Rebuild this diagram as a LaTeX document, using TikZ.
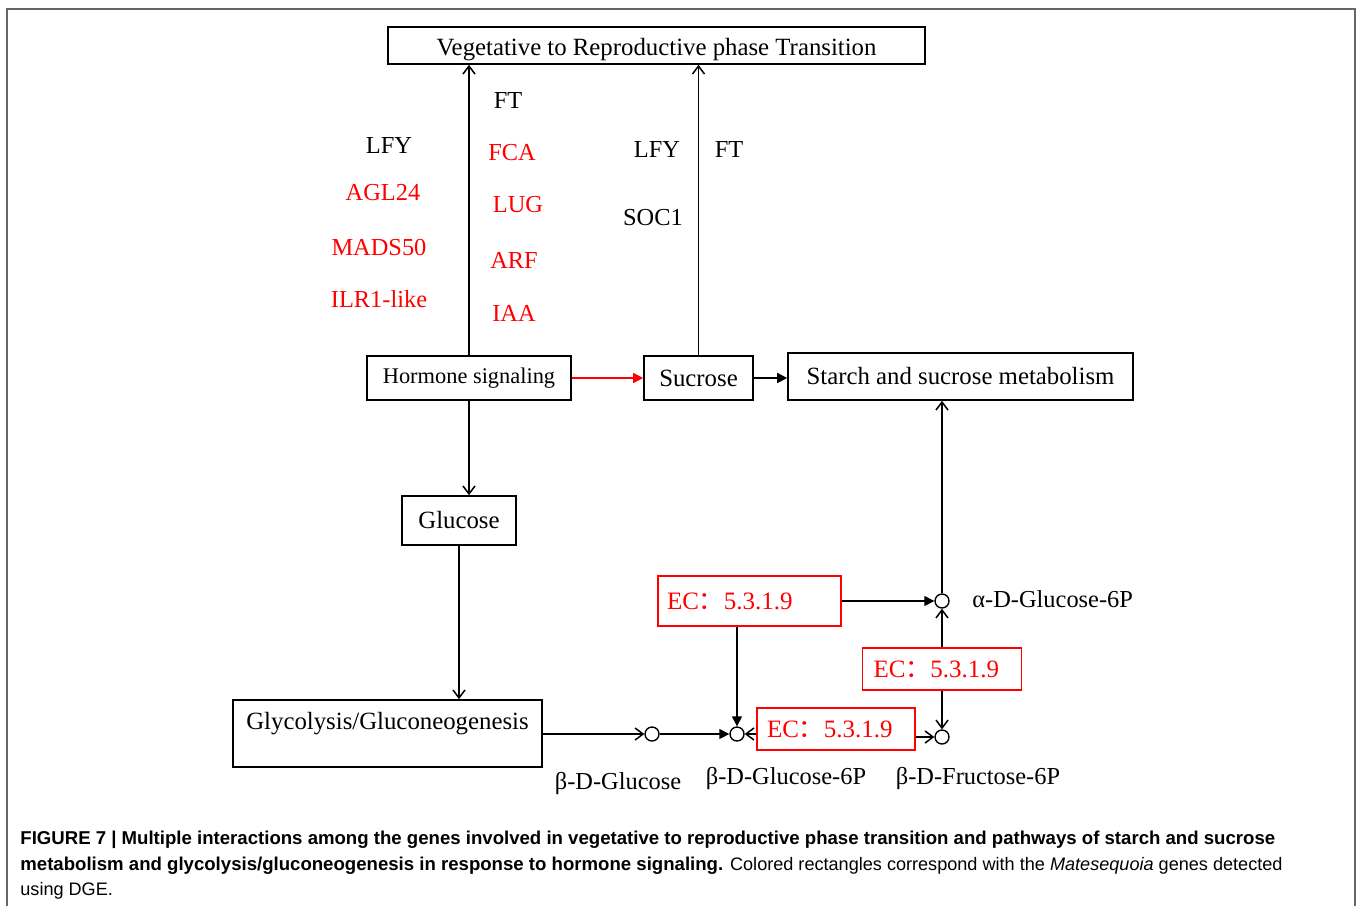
\documentclass[tikz,border=0pt]{standalone}
\usepackage{fontspec}
\setmainfont{Liberation Serif}
\newfontfamily\capfont{Liberation Sans}
\newfontfamily\cjk{Noto Sans CJK SC}
\usetikzlibrary{arrows.meta}
\newcommand{\ecname}{EC{\cjk ：}5.3.1.9}

\begin{document}
\begin{tikzpicture}[x=0.5pt, y=-0.5pt,
		box/.style={draw, line width=0.8pt, inner sep=0pt, font=\fontsize{12.4}{14}\selectfont},
		ecbox/.style={draw=red, text=red, line width=0.8pt, align=left, inner ysep=0pt, font=\fontsize{12.5}{14}\selectfont, text width=#1},
		dot/.style={draw, circle, line width=0.7pt, inner sep=0pt, minimum size=7pt},
		lbl/.style={font=\fontsize{12.2}{14}\selectfont, inner sep=1pt},
		gene/.style={lbl, text=red},
		opena/.style={line width=0.75pt, -{Straight Barb[length=4pt, width=6pt]}},
		filla/.style={line width=0.75pt, -{Triangle[length=5pt, width=5pt]}}]
		\useasboundingbox (0,0) rectangle (1358,906);
		\draw[gray!80!black, line width=1pt] (7,906) -- (7,9) -- (1355,9) -- (1355,906);
		
		% boxes
		\node[box, minimum width=268.5pt, minimum height=18.5pt, text height=12pt, text depth=2pt] (veg) at (656.5,45.5) {Vegetative to Reproductive phase Transition};
		\node[box, minimum width=102pt, minimum height=22pt, font=\fontsize{11.2}{14}\selectfont] (hormone) at (469,378) {Hormone signaling};
		\node[box, minimum width=54.5pt, minimum height=22pt] (sucrose) at (698.5,378) {Sucrose};
		\node[box, minimum width=172.5pt, minimum height=23.5pt] (starch) at (960.5,376.5) {Starch and sucrose metabolism};
		\node[box, minimum width=57pt, minimum height=24.5pt] (glucose) at (459,520.5) {Glucose};
		\node[box, minimum width=154.5pt, text height=10.5pt, text depth=15pt, inner ysep=4pt] (glyco) at (387.5,733.5) {Glycolysis/Gluconeogenesis};
		
		\node[ecbox=82.5pt, inner xsep=4.5pt, minimum height=25pt] (ec1) at (749.5,601) {\ecname};
		\node[ecbox=68.5pt, inner xsep=5.5pt, minimum height=21pt] (ec2) at (942,669) {\ecname};
		\node[ecbox=69pt, inner xsep=5pt, minimum height=21pt] (ec3) at (836,729) {\ecname};
		
		% metabolites
		\node[dot] (bglc) at (652,734) {};
		\node[dot] (b6p) at (737,734) {};
		\node[dot] (fru) at (942,737) {};
		\node[dot] (alpha) at (942,601) {};
		\node[lbl] (bglclab) at (618,783) {β-D-Glucose};
		\node[lbl] (b6plab) at (786,778) {β-D-Glucose-6P};
		\node[lbl] (frulab) at (978,778) {β-D-Fructose-6P};
		\node[lbl, anchor=west] (alphalab) at (970,599) {α-D-Glucose-6P};
		
		% genes
		\node[lbl] (ft1) at (508,101) {FT};
		\node[lbl] (lfy1) at (389,146) {LFY};
		\node[gene] (agl) at (383,193) {AGL24};
		\node[gene] (mads) at (379,247) {MADS50};
		\node[gene] (ilr) at (379,299) {ILR1-like};
		\node[gene] (fca) at (512,153) {FCA};
		\node[gene] (lug) at (518,205) {LUG};
		\node[gene] (arf) at (514,260) {ARF};
		\node[gene] (iaa) at (514,313) {IAA};
		\node[lbl] (lfy2) at (657,150) {LFY};
		\node[lbl] (ft2) at (729,150) {FT};
		\node[lbl] (soc) at (653,218) {SOC1};
		
		% connectors
		\draw[opena] (hormone.north) -- (hormone.north |- veg.south);
		\draw[opena] (sucrose.north) -- (sucrose.north |- veg.south);
		\draw[filla, red] (hormone) -- (sucrose);
		\draw[filla] (sucrose.east) -- (sucrose.east -| starch.west);
		\draw[opena] (hormone.south) -- (hormone.south |- glucose.north);
		\draw[opena] (glucose.south) -- (glucose.south |- glyco.north);
		\draw[opena] (glyco.east |- bglc) -- (bglc);
		\draw[filla] (bglc) -- (b6p);
		\draw[filla] (b6p |- ec1.south) -- (b6p);
		\draw[filla] (ec1) -- (alpha);
		\draw[opena] (ec3.west |- b6p) -- (b6p);
		\draw[opena] (ec3.east |- fru) -- (fru);
		\draw[opena] (ec2) -- (alpha);
		\draw[opena] (ec2) -- (fru);
		\draw[opena] (alpha) -- (alpha |- starch.south);
		
		% caption
		\node[anchor=north west, align=left, inner sep=0pt, font=\capfont\fontsize{9.3}{12.75}\selectfont] (caption) at (20,831)
			{\textbf{FIGURE 7 | Multiple interactions among the genes involved in vegetative to reproductive phase transition and pathways of starch and sucrose}\\
			\textbf{metabolism and glycolysis/gluconeogenesis in response to hormone signaling.} {\fontsize{9.05}{12.75}\selectfont Colored rectangles correspond with the \textit{Matesequoia} genes detected}\\
			{\fontsize{9.05}{12.75}\selectfont using DGE.}};
\end{tikzpicture}
\end{document}
